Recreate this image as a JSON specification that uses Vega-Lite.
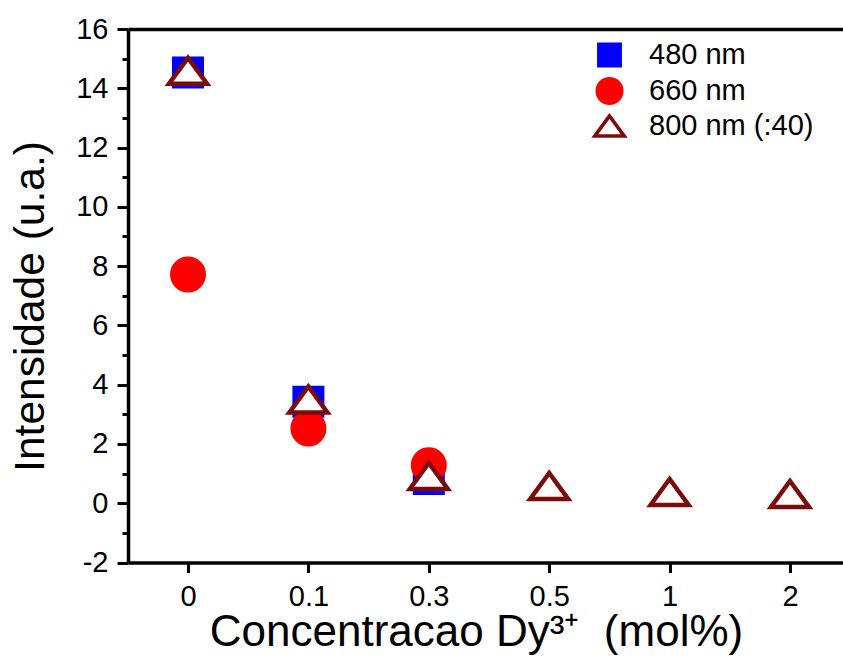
{
  "$schema": "https://vega.github.io/schema/vega-lite/v6.json",
  "width": 715,
  "height": 533.5,
  "autosize": "none",
  "padding": {"left": 128, "top": 29, "right": 0, "bottom": 102.5},
  "background": "white",
  "config": {
    "view": {"stroke": null},
    "font": "Liberation Sans",
    "legend": {
      "orient": "none",
      "legendX": 467,
      "legendY": 11.5,
      "padding": 0,
      "labelFont": "Liberation Sans",
      "labelFontSize": 29,
      "labelColor": "black",
      "labelLimit": 400,
      "symbolSize": 600,
      "symbolStrokeWidth": 3.5,
      "rowPadding": -2,
      "labelOffset": 25
    }
  },
  "data": {
    "values": [
      {"series": "480 nm", "conc": "0", "intensity": 14.53},
      {"series": "480 nm", "conc": "0.1", "intensity": 3.42},
      {"series": "480 nm", "conc": "0.3", "intensity": 0.82},
      {"series": "660 nm", "conc": "0", "intensity": 7.72},
      {"series": "660 nm", "conc": "0.1", "intensity": 2.52},
      {"series": "660 nm", "conc": "0.3", "intensity": 1.28},
      {"series": "800 nm (:40)", "conc": "0", "intensity": 14.59},
      {"series": "800 nm (:40)", "conc": "0.1", "intensity": 3.5},
      {"series": "800 nm (:40)", "conc": "0.3", "intensity": 0.92},
      {"series": "800 nm (:40)", "conc": "0.5", "intensity": 0.58},
      {"series": "800 nm (:40)", "conc": "1", "intensity": 0.38},
      {"series": "800 nm (:40)", "conc": "2", "intensity": 0.31}
    ]
  },
  "mark": {"type": "point", "filled": true, "size": 992, "strokeWidth": 4.5, "opacity": 1},
  "encoding": {
    "x": {
      "field": "conc",
      "type": "ordinal",
      "sort": ["0", "0.1", "0.3", "0.5", "1", "2"],
      "scale": {"type": "point", "padding": 0.4693, "align": 0.531},
      "axis": {
        "labelAngle": 0,
        "labelFontSize": 29,
        "labelColor": "black",
        "labelPadding": 10,
        "domainWidth": 3.5,
        "domainColor": "black",
        "tickSize": 10,
        "tickWidth": 3,
        "tickColor": "black",
        "title": "Concentracao Dy³⁺ \u00a0(mol%)",
        "titleFontSize": 44,
        "titleFontWeight": "normal",
        "titleColor": "black",
        "titleX": 348,
        "titleY": 82.5,
        "titleAlign": "center",
        "titleBaseline": "alphabetic"
      }
    },
    "y": {
      "field": "intensity",
      "type": "quantitative",
      "scale": {"domain": [-2, 16], "nice": false, "zero": false},
      "axis": {
        "values": [-2, -1, 0, 1, 2, 3, 4, 5, 6, 7, 8, 9, 10, 11, 12, 13, 14, 15, 16],
        "labelExpr": "datum.value % 2 == 0 ? '' + datum.value : ''",
        "labelFontSize": 29,
        "labelColor": "black",
        "labelPadding": 9,
        "domainWidth": 3.5,
        "domainColor": "black",
        "tickSize": {"condition": {"test": "datum.value % 2 != 0", "value": 6}, "value": 11},
        "tickWidth": 3,
        "tickColor": "black",
        "grid": true,
        "gridWidth": 3.5,
        "gridColor": "black",
        "gridOpacity": {"condition": {"test": "datum.value == 16", "value": 1}, "value": 0},
        "title": "Intensidade (u.a.)",
        "titleFontSize": 42.5,
        "titleFontWeight": "normal",
        "titleColor": "black",
        "titleX": -85,
        "titleY": 277,
        "titleAlign": "center",
        "titleBaseline": "alphabetic"
      }
    },
    "shape": {
      "field": "series",
      "type": "nominal",
      "title": null,
      "scale": {
        "domain": ["480 nm", "660 nm", "800 nm (:40)"],
        "range": ["M-0.873,-0.873H0.873V0.873H-0.873Z", "circle", "M0,-0.825L-1.206,0.825L1.206,0.825Z"]
      }
    },
    "fill": {
      "field": "series",
      "type": "nominal",
      "title": null,
      "scale": {
        "domain": ["480 nm", "660 nm", "800 nm (:40)"],
        "range": ["#0000ff", "#ff0000", "#ffffff"]
      }
    },
    "stroke": {
      "field": "series",
      "type": "nominal",
      "title": null,
      "scale": {
        "domain": ["480 nm", "660 nm", "800 nm (:40)"],
        "range": ["#0000ff", "#ff0000", "#7a0c0c"]
      }
    }
  }
}
